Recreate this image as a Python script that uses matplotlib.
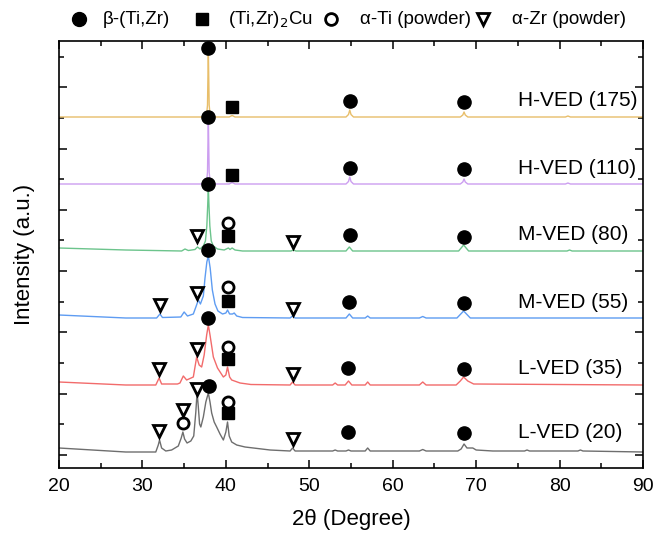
import matplotlib
matplotlib.use("Agg")
import matplotlib.pyplot as plt
from matplotlib.lines import Line2D
from matplotlib.ticker import MultipleLocator

plt.rcParams["font.family"] = ["Liberation Sans", "DejaVu Sans"]

# --- data (2theta in degree, intensity in a.u. above each baseline) ---
LABELS = ["H-VED (175)", "H-VED (110)", "M-VED (80)", "M-VED (55)", "L-VED (35)", "L-VED (20)"]
COLORS = ["#E8BE6A", "#CC9EF0", "#6CC48C", "#5E9CF2", "#F26B6B", "#6E6E6E"]
OFFSETS = [338, 271, 204, 137, 70, 3]
LABEL_Y = [354, 287, 220, 153, 87, 22]

HVED175_X = [20, 37.4, 37.7, 37.8, 37.86, 37.9, 37.94, 38.0, 38.1, 38.4, 40.4, 40.75, 41.1,
             54.4, 54.7, 54.85, 55.0, 55.3, 68.1, 68.4, 68.55, 68.7, 69.0, 80.7, 81.0, 81.3, 90]
HVED175_Y = [0, 0, 3, 12, 45, 67, 45, 12, 3, 0, 0, 1.5, 0,
             0, 2.5, 7, 2.5, 0, 0, 2, 5, 2, 0, 0, 1, 0, 0]

HVED110_X = [20, 37.4, 37.7, 37.8, 37.86, 37.9, 37.94, 38.0, 38.1, 38.4, 40.4, 40.75, 41.1,
             54.4, 54.7, 54.85, 55.0, 55.3, 68.1, 68.4, 68.55, 68.7, 69.0, 80.7, 81.0, 81.3, 90]
HVED110_Y = [0, 0, 3, 12, 44, 66, 44, 12, 3, 0, 0, 1.5, 0,
             0, 2.5, 7, 2.5, 0, 0, 2, 5, 2, 0, 0, 1, 0, 0]

MVED80_X = [20, 28, 34.7, 35.1, 35.5, 36.3, 36.6, 36.9, 37.3, 37.55, 37.72, 37.82, 37.9, 37.98,
            38.08, 38.25, 38.5, 39.0, 39.8, 40.3, 40.5, 40.75, 41.1, 42, 47.8, 48.1, 48.4,
            54.4, 54.8, 55.2, 67.9, 68.5, 69.1, 80.9, 81.2, 81.5, 90]
MVED80_Y = [3, 1, 0, 2, 0.5, 1.5, 4, 2, 5, 10, 25, 45, 63, 45,
            25, 10, 5, 2, 1, 3, 1.5, 3, 1, 0, 0, 1, 0,
            0, 4, 0, 0, 6, 0, 0, 1, 0, 0]

MVED55_X = [20, 28, 31.7, 32.1, 32.4, 34.6, 35.0, 35.4, 36.1, 36.45, 36.7, 36.95, 37.3, 37.5,
            37.72, 37.9, 38.12, 38.38, 38.7, 39.05, 39.6, 40.0, 40.2, 40.45, 40.8, 41.0, 41.3,
            42.0, 47.7, 48.0, 48.3, 54.4, 54.8, 55.2, 56.7, 57.0, 57.3, 63.2, 63.6, 64.0,
            67.7, 68.5, 69.3, 90]
MVED55_Y = [3, 0, 0, 4, 0.5, 1, 6, 2, 4, 12, 18, 14, 22, 40,
            56, 62, 50, 28, 14, 7, 4, 5, 8, 4, 4, 5, 2,
            0.5, 0, 2, 0, 0, 4, 0, 0, 2, 0, 0, 1.5, 0,
            0, 7, 0, 0]

LVED35_X = [20, 28, 31.6, 32.0, 32.3, 34.2, 34.5, 34.9, 35.3, 36.1, 36.5, 36.8, 37.1, 37.4,
            37.7, 37.9, 38.1, 38.5, 39.0, 39.7, 40.0, 40.2, 40.45, 40.7, 41.7, 43, 47.7, 48.0,
            48.3, 52.8, 53.1, 53.4, 54.3, 54.7, 55.1, 56.7, 57.0, 57.3, 63.2, 63.6, 64.0, 67.6,
            68.1, 68.5, 69.0, 69.7, 90]
LVED35_Y = [3, 0, 0, 7, 1, 1, 2, 9, 5, 8, 28, 20, 18, 30,
            50, 60, 50, 28, 17, 8, 10, 18, 8, 5, 2, 0.5, 0, 3,
            0, 0, 2, 0, 0, 4, 0, 0, 3, 0, 0, 3, 0, 0,
            4, 8, 4, 1, 0]

LVED20_X = [20, 24, 28, 31.6, 31.9, 32.05, 32.3, 32.8, 33.5, 34.3, 34.65, 34.85, 35.05, 35.35,
            35.8, 36.15, 36.4, 36.55, 36.7, 36.85, 37.0, 37.3, 37.6, 37.9, 38.1, 38.3, 38.6,
            38.9, 39.3, 39.7, 40.0, 40.2, 40.4, 40.7, 41.3, 42.3, 43.3, 45.3, 47.7, 48.0, 48.3,
            52.8, 53.1, 53.4, 54.4, 54.7, 55.0, 56.7, 57.0, 57.3, 63.2, 63.6, 64.0, 67.8, 68.2,
            68.55, 68.9, 69.3, 69.6, 70.0, 72, 75.8, 76.1, 76.4, 82.2, 82.5, 82.8, 90]
LVED20_Y = [4, 2, 0, 0, 7, 12, 4, 1, 2, 6, 14, 20, 13, 9,
            11, 16, 40, 60, 45, 28, 25, 35, 50, 59, 50, 39, 30,
            25, 18, 12, 20, 30, 16, 10, 7, 5, 4, 2, 1, 4, 1,
            1, 2, 1, 1, 2, 1, 1, 4, 1, 1, 2.5, 1, 1, 3,
            8, 4, 4, 4, 2, 1, 1, 2, 1, 1, 2, 1, 0]

SERIES_X = [HVED175_X, HVED110_X, MVED80_X, MVED55_X, LVED35_X, LVED20_X]
SERIES_Y = [HVED175_Y, HVED110_Y, MVED80_Y, MVED55_Y, LVED35_Y, LVED20_Y]

# phase markers (2theta, a.u.)
BETA_X = [37.9, 54.85, 68.55, 37.9, 54.85, 68.55, 37.9, 54.85, 68.55,
          37.9, 54.8, 68.5, 37.9, 54.7, 68.5, 38.0, 54.7, 68.5]
BETA_Y = [407, 354, 353, 338, 287, 286, 271, 220, 218,
          205, 153, 152, 137, 87, 86, 69, 23, 22]
CU_X = [40.75, 40.75, 40.3, 40.2, 40.2, 40.2]
CU_Y = [348, 280, 219, 154, 96, 42]
TI_X = [40.3, 40.2, 40.2, 34.9, 40.2]
TI_Y = [232, 168, 108, 32, 53]
ZR_X = [36.6, 48.1, 32.1, 36.6, 48.0, 32.0, 36.5, 48.0, 32.0, 34.9, 36.5, 48.0]
ZR_Y = [219, 213, 150, 162, 146, 86, 106, 81, 24, 45, 66, 16]

LEGEND_LABELS = ["β-(Ti,Zr)", "(Ti,Zr)$_2$Cu", "α-Ti (powder)", "α-Zr (powder)"]

fig = plt.figure(figsize=(6.54, 5.35), dpi=100)
ax = fig.add_axes([59 / 654, 1 - 468 / 535, (643 - 59) / 654, (468 - 41) / 535])

for xs, ys, off, c in zip(SERIES_X, SERIES_Y, OFFSETS, COLORS):
    ax.plot(xs, [v + off for v in ys], color=c, lw=1.0)

ax.plot(BETA_X, BETA_Y, "o", ms=9.5, color="black", ls="none")
ax.plot(CU_X, CU_Y, "s", ms=8, color="black", ls="none")
ax.plot(TI_X, TI_Y, "o", ms=8, mfc="white", mec="black", mew=2, ls="none")
ax.plot(ZR_X, ZR_Y, "v", ms=8, mfc="white", mec="black", mew=2, ls="none")

for lab, y in zip(LABELS, LABEL_Y):
    ax.text(75.0, y, lab, fontsize=15, va="center", ha="left")

ax.set_xlim(20, 90)
ax.set_ylim(-13, 414)
ax.xaxis.set_major_locator(MultipleLocator(10))
ax.xaxis.set_minor_locator(MultipleLocator(5))
ax.yaxis.set_major_locator(MultipleLocator(61.3))
ax.yaxis.set_minor_locator(MultipleLocator(30.65))
ax.tick_params(which="both", direction="in", top=True, right=True, width=1.1,
               labelsize=14)
ax.tick_params(axis="x", pad=7)
ax.tick_params(which="major", length=6)
ax.tick_params(which="minor", length=3.5)
ax.tick_params(axis="y", labelleft=False)
for s in ax.spines.values():
    s.set_linewidth(1.2)
ax.set_xlabel("2θ (Degree)", fontsize=16, labelpad=10)
ax.set_ylabel("Intensity (a.u.)", fontsize=16, labelpad=14)

# legend row above the axes
handles = [
    Line2D([], [], marker="o", ms=10, color="black", ls="none"),
    Line2D([], [], marker="s", ms=8.5, color="black", ls="none"),
    Line2D([], [], marker="o", ms=8.5, mfc="white", mec="black", mew=2, ls="none"),
    Line2D([], [], marker="v", ms=8.5, mfc="white", mec="black", mew=2, ls="none"),
]
mark_px = [79, 202, 331, 483]
text_px = [103, 228, 360, 512]
for h, mx, tx, lab in zip(handles, mark_px, text_px, LEGEND_LABELS):
    h.set_data([mx / 654], [1 - 19 / 535])
    h.set_transform(fig.transFigure)
    fig.add_artist(h)
    fig.text(tx / 654, 1 - 19 / 535, lab, fontsize=13.5, va="center", ha="left")

fig.savefig("out.png", dpi=100)
